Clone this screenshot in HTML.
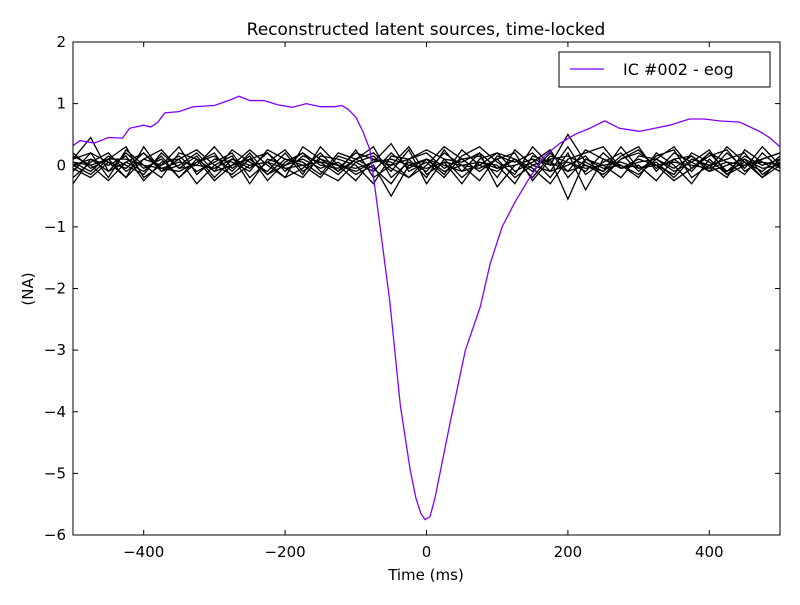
<!DOCTYPE html>
<html><head><meta charset="utf-8"><style>
body{margin:0;background:#fff;}
svg text{font-family:"DejaVu Sans","Liberation Sans",sans-serif;}
</style></head><body>
<svg id="chart" width="800" height="600" xmlns="http://www.w3.org/2000/svg"></svg>
<script>
const eogTimes=[-500,-490,-470,-450,-430,-420,-400,-390,-380,-370,-350,-330,-300,-280,-265,-250,-230,-210,-190,-170,-150,-130,-120,-110,-100,-90,-80,-66,-52,-37,-23,-15,-8,-2,5,12,19,33,55,76,90,107,125,146,167,188,210,231,252,273,301,323,344,372,393,414,443,471,485,500];
const eogValues=[0.32,0.4,0.36,0.45,0.44,0.6,0.65,0.62,0.7,0.85,0.87,0.95,0.97,1.05,1.12,1.05,1.05,0.98,0.94,1.0,0.95,0.95,0.97,0.9,0.78,0.55,0.25,-0.97,-2.2,-3.9,-4.95,-5.4,-5.65,-5.75,-5.7,-5.4,-5.0,-4.2,-3.0,-2.3,-1.6,-1.0,-0.6,-0.2,0.15,0.35,0.5,0.6,0.72,0.6,0.55,0.6,0.65,0.75,0.75,0.72,0.7,0.55,0.45,0.3];
const noiseTimes=[-500,-475,-450,-425,-400,-375,-350,-325,-300,-275,-250,-225,-200,-175,-150,-125,-100,-75,-50,-25,0,25,50,75,100,125,150,175,200,225,250,275,300,325,350,375,400,425,450,475,500];
const noise1=[0.1,0.45,-0.1,0.2,-0.05,0.1,-0.2,0.05,0.15,-0.1,0.2,-0.15,0.1,0.0,-0.2,0.15,0.05,-0.1,0.2,-0.05,0.1,-0.15,0.25,0.0,-0.1,0.1,-0.2,0.15,0.05,-0.1,0.2,-0.05,0.1,0.0,-0.15,0.2,0.05,-0.1,0.15,0.0,0.1];
const noise2=[-0.2,0.05,0.2,-0.1,0.1,0.25,-0.05,0.15,-0.2,0.1,-0.05,0.2,-0.1,0.15,0.05,-0.15,0.1,0.3,-0.2,0.05,-0.1,0.2,0.0,-0.25,0.15,0.05,0.2,-0.1,0.0,0.15,-0.2,0.1,0.25,-0.05,0.1,-0.1,0.2,0.05,-0.15,0.2,-0.05];
const noise3=[0.0,-0.15,0.1,0.3,-0.2,0.0,0.15,-0.1,0.05,0.2,-0.2,0.05,0.25,-0.1,0.1,0.0,-0.25,0.1,0.0,0.3,-0.15,0.05,-0.3,0.1,0.2,-0.1,0.05,0.25,-0.2,0.1,0.0,-0.2,0.15,0.1,-0.1,0.05,0.25,-0.15,0.0,0.1,0.2];
const noise4=[0.15,0.0,-0.25,0.05,0.2,-0.1,0.1,0.25,0.0,-0.15,0.1,0.2,-0.05,-0.2,0.15,0.1,0.0,-0.3,0.15,0.1,0.2,-0.05,0.1,0.15,-0.2,0.25,0.0,-0.1,0.3,-0.15,0.05,0.2,-0.1,0.15,0.25,-0.2,0.0,0.1,0.2,-0.15,0.05];
const noise5=[-0.1,0.2,0.05,-0.2,0.1,0.0,0.3,-0.15,0.1,0.05,-0.1,0.25,0.1,0.05,-0.15,0.2,0.1,-0.05,-0.3,0.1,0.25,0.1,-0.2,0.05,0.0,-0.3,0.15,0.05,-0.1,0.25,0.1,-0.05,0.0,-0.25,0.1,0.15,-0.05,0.3,0.05,-0.1,0.15];
const noise6=[0.05,-0.1,0.15,0.0,-0.15,0.2,-0.05,0.0,0.3,-0.05,0.15,-0.25,0.05,0.2,0.0,-0.05,0.2,0.1,0.05,-0.2,0.0,0.3,0.1,-0.1,0.1,0.2,-0.25,0.1,0.15,0.0,-0.1,0.3,-0.05,0.05,-0.2,0.1,0.0,-0.2,0.25,0.05,-0.1];
const noise7=[-0.3,0.1,0.0,0.15,-0.25,0.05,0.1,-0.3,0.0,0.15,-0.3,0.1,0.0,0.2,-0.1,-0.25,0.05,0.15,-0.1,0.25,-0.3,0.1,0.05,0.2,-0.35,0.0,0.1,-0.2,0.2,-0.4,0.1,0.0,-0.2,0.2,0.0,-0.3,0.1,-0.15,0.1,-0.2,0.0];
const noise8=[0.2,-0.05,0.1,-0.2,0.3,-0.1,0.0,0.2,-0.1,0.25,0.05,-0.1,0.2,-0.15,0.3,0.0,-0.1,0.05,0.35,-0.1,0.05,-0.2,0.15,0.3,0.05,-0.15,0.3,0.0,0.5,0.05,-0.1,0.15,0.3,-0.1,0.2,0.05,-0.1,0.2,-0.05,0.3,0.0];
const noise9=[0.0,0.1,-0.1,0.05,-0.1,0.15,-0.2,0.1,-0.1,0.0,0.1,-0.15,0.0,0.1,-0.05,0.05,-0.15,0.0,-0.5,0.0,0.1,-0.1,0.0,-0.05,0.1,-0.2,0.0,0.1,-0.55,0.1,-0.05,0.0,-0.15,0.1,-0.05,0.15,-0.1,0.0,0.1,-0.05,0.0];
const noise10=[0.1,0.2,-0.2,0.25,0.0,-0.2,0.2,0.1,-0.25,0.0,0.25,0.0,-0.2,0.3,0.1,-0.1,0.25,-0.2,0.0,0.1,-0.2,0.25,-0.1,0.0,0.2,0.1,-0.05,-0.3,0.1,0.2,0.3,-0.05,0.05,0.1,0.3,-0.05,0.15,0.25,-0.1,0.1,0.2];
const noise11=[-0.05,-0.2,0.05,-0.05,0.2,-0.05,-0.1,0.05,0.2,-0.2,0.0,0.05,-0.2,-0.05,0.2,-0.1,0.1,0.2,-0.05,-0.2,0.1,0.0,-0.1,0.2,-0.05,0.1,-0.1,0.2,-0.1,0.0,-0.15,0.1,0.2,0.0,-0.25,-0.05,0.2,-0.1,0.05,-0.2,0.1];
const noise12=[0.05,0.0,0.1,0.1,0.0,-0.05,0.05,0.0,-0.05,0.1,0.0,0.05,-0.05,0.0,0.05,0.0,-0.05,0.05,0.1,0.0,-0.05,0.05,0.0,0.05,-0.05,0.0,0.1,0.0,0.05,-0.05,0.0,0.05,-0.05,0.0,0.05,0.0,-0.05,0.05,0.0,0.05,0.0];
const noiseSeries=[noise1,noise2,noise3,noise4,noise5,noise6,noise7,noise8,noise9,noise10,noise11,noise12];
const xTicks=[-400,-200,0,200,400];
const yTicks=[2,1,0,-1,-2,-3,-4,-5,-6];

const L=73,R=780,T=42,B=535;
const X=v=>L+(v+500)/1000*(R-L);
const Y=v=>T+(2-v)/8*(B-T);
const svg=document.getElementById('chart');
const NS='http://www.w3.org/2000/svg';
function mk(tag,attrs,parent){const e=document.createElementNS(NS,tag);for(const k in attrs)e.setAttribute(k,attrs[k]);(parent||svg).appendChild(e);return e;}

const defs=mk('defs',{});
const cp=mk('clipPath',{id:'clip'},defs);
mk('rect',{x:L,y:T,width:R-L,height:B-T},cp);

const plot=mk('g',{'clip-path':'url(#clip)'});


noiseSeries.forEach((s,i)=>{
  const p=mk('polyline',{points:s.map((v,j)=>X(noiseTimes[j])+','+Y(v)).join(' '),fill:'none',stroke:'#000','stroke-width':1.3},plot);
  
  
});
const eog=mk('polyline',{points:eogValues.map((v,j)=>X(eogTimes[j])+','+Y(v)).join(' '),fill:'none',stroke:'#8000ff','stroke-width':1.3},plot);



const frame=mk('rect',{x:L,y:T,width:R-L,height:B-T,fill:'none',stroke:'#000','stroke-width':1});



xTicks.forEach(t=>{
  const x=X(t);
  mk('line',{x1:x,x2:x,y1:B,y2:B-5,stroke:'#000'});
  mk('line',{x1:x,x2:x,y1:T,y2:T+5,stroke:'#000'});
  const tx=mk('text',{x:x,y:B+22,'text-anchor':'middle','font-size':15});
  tx.textContent=t<0?'\u2212'+(-t):String(t);
  
  
});
yTicks.forEach(t=>{
  const y=Y(t);
  mk('line',{x1:L,x2:L+5,y1:y,y2:y,stroke:'#000'});
  mk('line',{x1:R,x2:R-5,y1:y,y2:y,stroke:'#000'});
  const tx=mk('text',{x:L-7,y:y+5,'text-anchor':'end','font-size':15});
  tx.textContent=t<0?'\u2212'+(-t):String(t);
  
  
});
</script>
<svg style="position:absolute;left:0;top:0" width="800" height="600" xmlns="http://www.w3.org/2000/svg">
<text x="426" y="35" text-anchor="middle" font-size="17" font-family="DejaVu Sans, sans-serif">Reconstructed latent sources, time-locked</text>
<text x="426" y="580" text-anchor="middle" font-size="15" font-family="DejaVu Sans, sans-serif">Time (ms)</text>
<text x="33" y="289" text-anchor="middle" font-size="15" font-family="DejaVu Sans, sans-serif" transform="rotate(-90 33 289)">(NA)</text>
<g>
<rect x="559" y="52" width="211" height="35" fill="#fff" stroke="#000" stroke-width="1"/>
<line x1="570" x2="604" y1="69" y2="69" stroke="#8000ff" stroke-width="1.3"/>
<text x="623" y="75" font-size="16" font-family="DejaVu Sans, sans-serif">IC #002 - eog</text>
</g>
</svg>
</body></html>
